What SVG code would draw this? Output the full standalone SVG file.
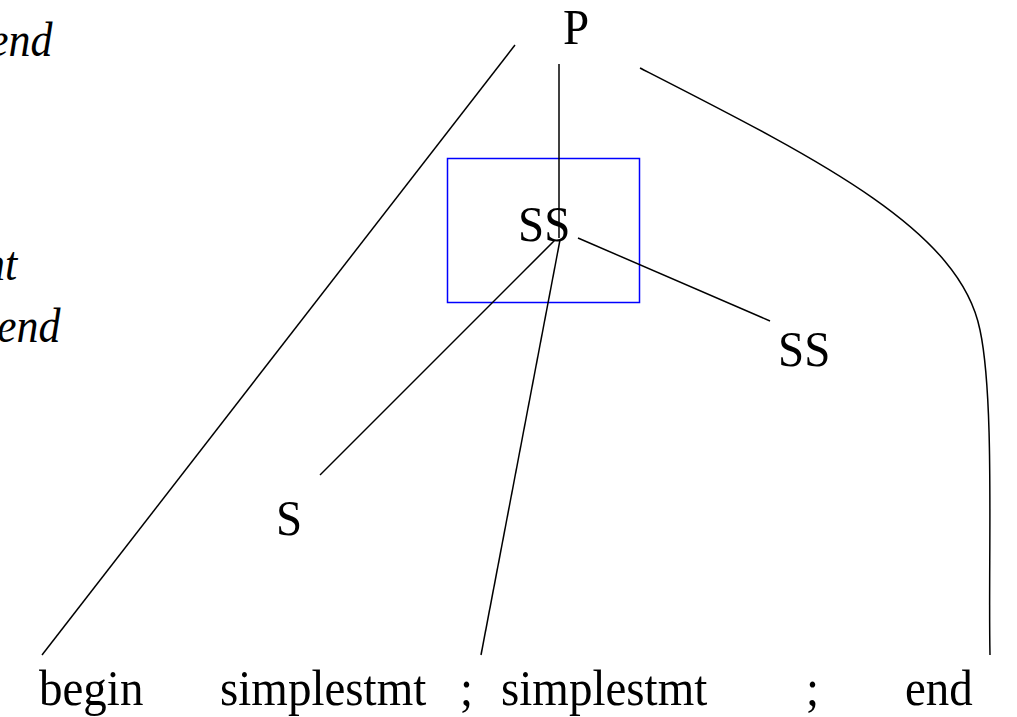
<svg xmlns="http://www.w3.org/2000/svg" width="1017" height="717" viewBox="0 0 1017 717">
<style>
text{font-family:'Liberation Serif','Times New Roman',Times,'DejaVu Serif',serif}
.t{font-size:47px;fill:#000}
.i{font-size:44px;font-style:italic;fill:#000}
.e{fill:none;stroke:#000;stroke-width:1.5}
</style>
<rect width="1017" height="717" fill="#fff"/>
<g id="left-text">
<text class="i" transform="translate(-11,56) scale(1,1.12)">end</text>
<text class="i" transform="translate(-17,280) scale(1,1.12)">nt</text>
<text class="i" transform="translate(-3,342) scale(1,1.12)">end</text>
</g>
<g id="highlight">
<rect x="447.5" y="158.5" width="192" height="144" fill="none" stroke="#0000ff" stroke-width="1.5"/>
</g>
<g id="connectors">
<line class="e" x1="515" y1="45" x2="42" y2="655"/>
<line class="e" x1="559" y1="64" x2="559" y2="238"/>
<path class="e" d="M640,68 C820,160 960,230 980,330 C995,400 988,560 990,655"/>
<line class="e" x1="555" y1="240" x2="320" y2="475"/>
<line class="e" x1="560" y1="240" x2="481" y2="655"/>
<line class="e" x1="578" y1="238" x2="770" y2="321"/>
</g>
<g id="node-P"><text class="t" transform="translate(563,44) scale(1,1.1)">P</text></g>
<g id="node-SS1"><text class="t" transform="translate(518,241) scale(1,1.1)">SS</text></g>
<g id="node-SS2"><text class="t" transform="translate(778,366) scale(1,1.1)">SS</text></g>
<g id="node-S"><text class="t" transform="translate(276,535) scale(1,1.1)">S</text></g>
<g id="leaves">
<text class="t" transform="translate(39,705) scale(1,1.1)">begin</text>
<text class="t" transform="translate(220,705) scale(1,1.1)">simplestmt</text>
<text class="t" transform="translate(460,705) scale(1,1.1)">;</text>
<text class="t" transform="translate(501,705) scale(1,1.1)">simplestmt</text>
<text class="t" transform="translate(806,705) scale(1,1.1)">;</text>
<text class="t" transform="translate(905,705) scale(1,1.1)">end</text>
</g>
</svg>
